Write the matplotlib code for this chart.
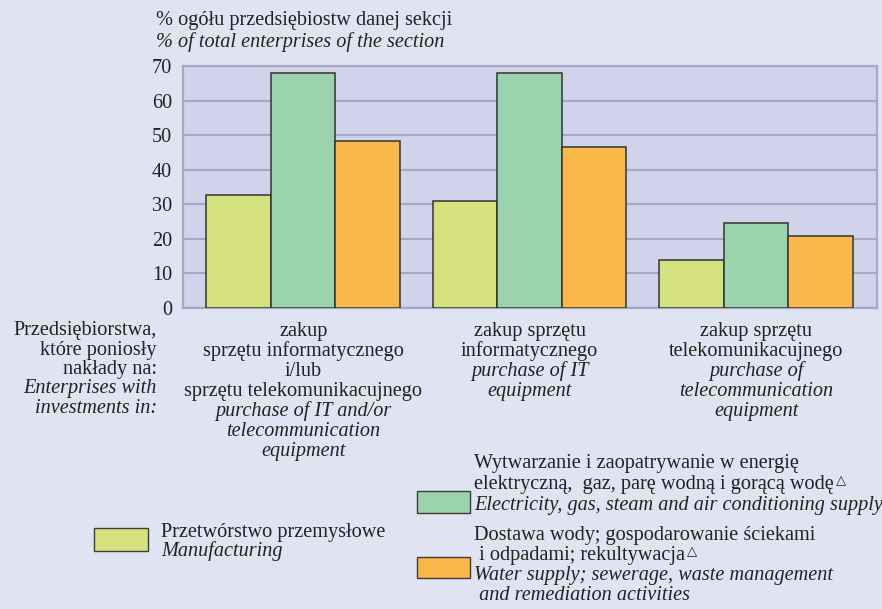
import numpy as np
import matplotlib
matplotlib.use("Agg")
import matplotlib.pyplot as plt
from matplotlib.patches import Rectangle
from matplotlib.transforms import blended_transform_factory

# --------------------------------------------------------------------------
# Data
# --------------------------------------------------------------------------
cat_pl = [
    ["zakup", "sprzętu informatycznego", "i/lub", "sprzętu telekomunikacujnego"],
    ["zakup sprzętu", "informatycznego"],
    ["zakup sprzętu", "telekomunikacujnego"],
]
cat_en = [
    ["purchase of IT and/or", "telecommunication", "equipment"],
    ["purchase of IT", "equipment"],
    ["purchase of", "telecommunication", "equipment"],
]
manufacturing = [32.6, 30.9, 13.9]
energy = [68.0, 68.0, 24.5]
water = [48.4, 46.7, 20.9]

series_values = [manufacturing, energy, water]
series_colors = ["#d4e17e", "#9bd3ad", "#fbb84a"]
y_ticks = [0, 10, 20, 30, 40, 50, 60, 70]

title_pl = "% ogółu przedsiębiostw danej sekcji"
title_en = "% of total enterprises of the section"
side_label = [("Przedsiębiorstwa,", "normal"), ("które poniosły", "normal"),
              ("nakłady na:", "normal"), ("Enterprises with", "italic"),
              ("investments in:", "italic")]

legend_manuf = [("Przetwórstwo przemysłowe", "normal", False),
                ("Manufacturing", "italic", False)]
legend_energy = [("Wytwarzanie i zaopatrywanie w energię", "normal", False),
                 ("elektryczną,  gaz, parę wodną i gorącą wodę", "normal", True),
                 ("Electricity, gas, steam and air conditioning supply", "italic", False)]
legend_water = [("Dostawa wody; gospodarowanie ściekami", "normal", False),
                (" i odpadami; rekultywacja", "normal", True),
                ("Water supply; sewerage, waste management", "italic", False),
                (" and remediation activities", "italic", False)]

# --------------------------------------------------------------------------
# Style
# --------------------------------------------------------------------------
W, H = 882, 609
FIG_BG = "#e0e3f2"
AX_BG = "#d1d3ea"
GRID = "#a7a7c6"
TXT = "#222222"
FS = 14.6

plt.rcParams["font.family"] = ["Liberation Serif", "DejaVu Serif"]

fig = plt.figure(figsize=(W / 100, H / 100), dpi=100, facecolor=FIG_BG)
ax = fig.add_axes([183 / W, 1 - 308 / H, (877 - 183) / W, (308 - 66) / H])
ax.set_facecolor(AX_BG)


def fx(px):
    return px / W


def fy(py):
    return 1 - py / H


# bars
x = np.arange(len(cat_pl))
bw = 0.285
for i, (vals, col) in enumerate(zip(series_values, series_colors)):
    ax.bar(x + (i - 1) * bw, vals, width=bw, color=col, edgecolor="#333333",
           linewidth=1.1, zorder=3)

ax.set_xlim(-0.531, 2.534)
ax.set_ylim(0, 70)
ax.set_yticks(y_ticks)
ax.set_yticklabels([str(t) for t in y_ticks], fontsize=FS, color=TXT)
ax.set_xticks([])
ax.tick_params(axis="y", length=0, pad=8)
ax.yaxis.grid(True, color=GRID, linewidth=1.6, zorder=0)
ax.set_axisbelow(True)
for side in ["left", "right", "bottom", "top"]:
    ax.spines[side].set_color(GRID)
    ax.spines[side].set_linewidth(1.6)

# title lines
fig.text(fx(156), fy(25), title_pl, fontsize=FS, color=TXT, va="baseline")
fig.text(fx(156), fy(47), title_en, fontsize=FS, color=TXT, va="baseline",
         style="italic")

# side label
for k, (line, st) in enumerate(side_label):
    fig.text(fx(157), fy(335 + k * 19.5), line, fontsize=FS, color=TXT,
             ha="right", va="baseline", style=st)

# category labels under each group
trans = blended_transform_factory(ax.transData, fig.transFigure)
for i in range(len(cat_pl)):
    lines = [(l, "normal") for l in cat_pl[i]] + [(l, "italic") for l in cat_en[i]]
    for k, (line, st) in enumerate(lines):
        fig.text(x[i], fy(336 + k * 20), line, transform=trans, fontsize=FS,
                 color=TXT, ha="center", va="baseline", style=st)

# legend
renderer = fig.canvas.get_renderer()


def legend_block(box, color, text_x, first_base, step, lines):
    x0, y0, x1, y1 = box
    fig.patches.append(Rectangle((fx(x0), fy(y1)), fx(x1) - fx(x0), fy(y0) - fy(y1),
                                 transform=fig.transFigure, facecolor=color,
                                 edgecolor="#3a3a3a", linewidth=1.0))
    for k, (line, st, tri) in enumerate(lines):
        base = first_base + k * step
        t = fig.text(fx(text_x), fy(base), line, fontsize=FS, color=TXT,
                     va="baseline", style=st)
        if tri:
            # small outlined triangle superscript after the line
            ext = t.get_window_extent(renderer)
            fig.text((ext.x1 + 2) / W, fy(base - 5), "△", fontsize=9.5,
                     family="DejaVu Sans", color=TXT, va="baseline")


legend_block((94, 528, 148, 551), series_colors[0], 161, 537, 19, legend_manuf)
legend_block((417, 491, 470, 513), series_colors[1], 474, 468, 21, legend_energy)
legend_block((417, 557, 470, 578), series_colors[2], 474, 540, 20, legend_water)

fig.savefig("out.png", dpi=100, facecolor=FIG_BG)
